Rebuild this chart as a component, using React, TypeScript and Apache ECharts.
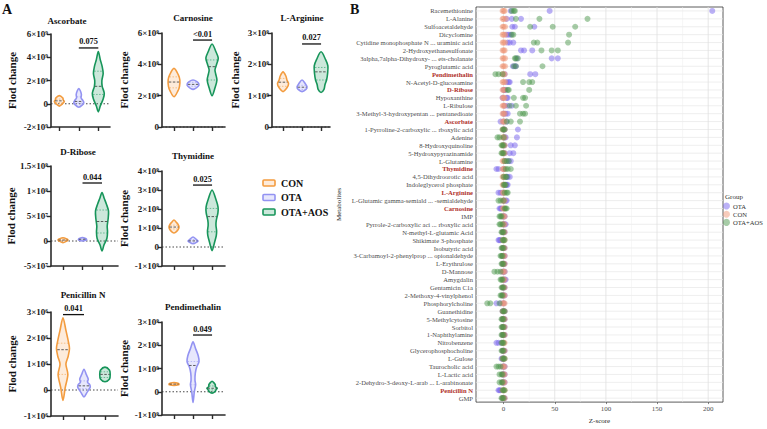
import React, { useEffect, useRef } from "react";
import * as echarts from "echarts";

const FONT = "Liberation Serif, Times New Roman, serif";

// ---------- Panel A: violin profiles [value, relative half-width] (CON, OTA, OTA+AOS) ----------
const groupsA = ["CON", "OTA", "OTA+AOS"];

const ascorbateViolins = [
  [[-2e8, 0], [0, 0.5], [2e8, 0.77], [3.5e8, 0.6], [5e8, 0.55], [7e8, 0]],
  [[-3e8, 0], [-1e8, 0.55], [1e8, 0.77], [3e8, 0.6], [5e8, 0.35], [8e8, 0.4], [1.1e9, 0.25], [1.3e9, 0]],
  [[-7e8, 0], [-2e8, 0.3], [4e8, 0.75], [9e8, 0.92], [1.5e9, 0.6], [2e9, 0.55], [2.6e9, 0.75], [3.2e9, 0.6], [3.8e9, 0.3], [4.5e9, 0]],
];
const ascorbateQuartiles = [[1e8, 2.5e8, 4e8], [0.5e8, 2e8, 6e8], [8e8, 1.5e9, 2.8e9]];
const ascorbateSig = [2, 3, 4.8e9, "0.075"];

const carnosineViolins = [
  [[1.93e8, 0], [2.3e8, 0.6], [2.6e8, 0.85], [3.0e8, 0.9], [3.3e8, 0.7], [3.74e8, 0]],
  [[2.4e8, 0], [2.6e8, 0.8], [2.75e8, 0.9], [2.9e8, 0.6], [3e8, 0]],
  [[2e8, 0], [2.5e8, 0.45], [3e8, 0.75], [3.4e8, 0.55], [3.65e8, 0.45], [4e8, 0.7], [4.4e8, 0.95], [4.8e8, 0.6], [5.3e8, 0]],
];
const carnosineQuartiles = [[2.5e8, 2.87e8, 3.2e8], [2.6e8, 2.72e8, 2.85e8], [3e8, 3.85e8, 4.28e8]];
const carnosineSig = [2, 3, 5.55e8, "<0.01"];

const arginineViolins = [
  [[1.13e8, 0], [1.25e8, 0.6], [1.38e8, 0.85], [1.5e8, 0.6], [1.62e8, 0.45], [1.76e8, 0]],
  [[1.13e8, 0], [1.2e8, 0.6], [1.28e8, 0.77], [1.38e8, 0.5], [1.5e8, 0]],
  [[1.1e8, 0], [1.2e8, 0.45], [1.35e8, 0.6], [1.5e8, 0.85], [1.7e8, 1.0], [1.95e8, 1.05], [2.15e8, 0.7], [2.4e8, 0]],
];
const arginineQuartiles = [[1.3e8, 1.43e8, 1.55e8], [1.2e8, 1.27e8, 1.33e8], [1.5e8, 1.76e8, 1.9e8]];
const arginineSig = [2, 3, 2.65e8, "0.027"];

const riboseViolins = [
  [[-3.4e6, 0], [0, 0.6], [2e6, 0.77], [4e6, 0.6], [6.6e6, 0]],
  [[0, 0], [2e6, 0.6], [3.5e6, 0.62], [5e6, 0.5], [7e6, 0]],
  [[-2e7, 0], [-8e6, 0.3], [5e6, 0.75], [1.8e7, 0.85], [3e7, 0.8], [4.5e7, 0.95], [6e7, 1.0], [7.3e7, 0.7], [8.5e7, 0.35], [9.7e7, 0]],
];
const riboseQuartiles = [[0.5e6, 2e6, 3.5e6], [2e6, 3.5e6, 5e6], [1.6e7, 3.9e7, 6.2e7]];
const riboseSig = [2, 3, 1.16e8, "0.044"];

const thymidineViolins = [
  [[7.4e7, 0], [9e7, 0.6], [1.05e8, 0.77], [1.2e8, 0.6], [1.3e8, 0.35], [1.42e8, 0]],
  [[1.7e7, 0], [2.6e7, 0.6], [3.2e7, 0.77], [4e7, 0.5], [5.3e7, 0]],
  [[-2e7, 0], [2e7, 0.35], [6e7, 0.65], [8.5e7, 0.7], [1.15e8, 0.6], [1.4e8, 0.65], [1.8e8, 0.9], [2.1e8, 0.92], [2.5e8, 0.6], [3e8, 0]],
];
const thymidineQuartiles = [[9.5e7, 1.05e8, 1.15e8], [2.5e7, 3.2e7, 3.9e7], [8e7, 1.6e8, 2.03e8]];
const thymidineSig = [2, 3, 3.26e8, "0.025"];

const penicillinViolins = [
  [[-4e5, 0], [1e5, 0.35], [6e5, 0.75], [1e6, 0.45], [1.3e6, 0.8], [1.6e6, 1.0], [1.9e6, 0.8], [2.3e6, 0.45], [2.78e6, 0]],
  [[-2.7e5, 0], [-1e5, 0.45], [1e5, 0.95], [2e5, 0.9], [3e5, 0.55], [4.2e5, 0.65], [6e5, 0.35], [8e5, 0]],
  [[3.2e5, 0], [4.2e5, 0.7], [6e5, 0.8], [7.6e5, 0.7], [8.8e5, 0]],
];
const penicillinQuartiles = [[6e5, 1.55e6, 1.8e6], [5e4, 1.6e5, 3.5e5], [4.8e5, 6e5, 7e5]];
const penicillinSig = [1, 2, 2.9e6, "0.041"];

const pendimethalinViolins = [
  [[2.7e7, 0], [3e7, 0.7], [3.3e7, 0.77], [3.7e7, 0.6], [4e7, 0]],
  [[-4.6e7, 0], [0, 0.2], [3e7, 0.4], [5e7, 0.3], [8e7, 0.35], [1.05e8, 0.55], [1.3e8, 0.92], [1.55e8, 0.8], [1.85e8, 0.4], [2.15e8, 0]],
  [[-5.7e6, 0], [2e6, 0.5], [8e6, 0.6], [1.5e7, 0.8], [2.2e7, 0.5], [3e7, 0.5], [3.8e7, 0.3], [4.5e7, 0]],
];
const pendimethalinQuartiles = [[3e7, 3.3e7, 3.6e7], [3e7, 1.13e8, 1.3e8], [8e6, 1.5e7, 2.5e7]];
const pendimethalinSig = [2, 3, 2.44e8, "0.049"];

// ---------- Panel B: metabolites and z-scores ----------
const metabolites = [
  "Racemethionine", "L-Alanine", "Sulfoacetaldehyde", "Dicyclomine",
  "Cytidine monophosphate N ... uraminic acid", "2-Hydroxyethanesulfonate",
  "3alpha,7alpha-Dihydroxy- ... ets-cholanate", "Pyroglutamic acid", "Pendimethalin",
  "N-Acetyl-D-glucosamine", "D-Ribose", "Hypoxanthine", "L-Ribulose",
  "3-Methyl-3-hydroxypentan ... pentanedioate", "Ascorbate",
  "1-Pyrroline-2-carboxylic ... rboxylic acid", "Adenine", "8-Hydroxyquinoline",
  "5-Hydroxypyrazinamide", "L-Glutamine", "Thymidine", "4,5-Dihydroorotic acid",
  "Indoleglycerol phosphate", "L-Arginine", "L-Glutamic gamma-semiald ... -semialdehyde",
  "Carnosine", "IMP", "Pyrrole-2-carboxylic aci ... rboxylic acid",
  "N-methyl-L-glutamic Acid", "Shikimate 3-phosphate", "Isobutyric acid",
  "3-Carbamoyl-2-phenylprop ... opionaldehyde", "L-Erythrulose", "D-Mannose",
  "Amygdalin", "Gentamicin C1a", "2-Methoxy-4-vinylphenol", "Phosphorylcholine",
  "Guanethidine", "5-Methylcytosine", "Sorbitol", "1-Naphthylamine", "Nitrobenzene",
  "Glycerophosphocholine", "L-Gulose", "Taurocholic acid", "L-Lactic acid",
  "2-Dehydro-3-deoxy-L-arab ... L-arabinonate", "Penicillin N", "GMP",
];
const highlighted = ["Pendimethalin", "D-Ribose", "Ascorbate", "Thymidine", "L-Arginine", "Carnosine", "Penicillin N"];

const otaZ = [
  [7, 45, 204], [3, 8, 17], [8.5, 11, 30], [3, 5, 7], [4, 6, 9.5], [17, 20, 28], [13, 47, 53], [9, 11, 12],
  [1, 26, 31], [3, 5, 6], [0, 1, 2], [-1, 3, 4], [1, 4, 8], [0, 2, 4], [-3, 0, 3], [0, 1, 14],
  [1, 2, 13], [1, 7, 11], [1, 6, 9.5], [2, 5, 7], [-7, -5, 0], [3, 4, 6], [2, 3, 4], [-5, -3, -1],
  [0, 2, 3], [-4, -3, -2], [-1, 0, 1], [0, 1, 2], [-1, 0, 1], [-5, -4, -3], [-1, 0, 1], [-1, 0, 1],
  [-1, 0, 1], [-1, 0, 1], [0, 1, 2], [-1, 0, 1], [-1, 0, 1], [-7, -3, 0], [-1, 0, 1], [-1, 0, 1],
  [-1, 0, 1], [-1, 0, 1], [-7, -5, -2], [-1, 0, 1], [-2, -1, 0], [-1, 0, 1], [-1, 0, 1], [-1, 0, 1],
  [-5, -4, -3], [-1, 0, 1],
];
const conZ = [
  [-1, 0, 1], [-1, 0, 2], [-1, 0, 1.5], [-1, 0, 1.5], [-1, 0, 1.5], [-1, 0, 1], [-1, 0, 1.5], [-1, 0, 1.5],
  [-1, 0, 1], [-1, 0, 1.5], [-1, 0, 1], [-1, 0, 1], [-1, 0, 1], [-1, 0, 1], [-1, 0, 1], [-1, 0, 1],
  [-1, 0, 1], [-1, 0, 1], [-1, 0, 1], [-1, 0, 1], [-1, 0, 1], [-1, 0, 1], [-1, 0, 1], [-1, 0, 1],
  [-1, 0, 1], [-1, 0, 1], [-1, 0, 1], [-1, 0, 1], [-1, 0, 1], [-1, 0, 1], [-1, 0, 1], [-1, 0, 1],
  [-1, 0, 1], [-1, 0, 1], [-1, 0, 1], [-1, 0, 1], [-1, 0, 1], [-1, 0, 1], [-1, 0, 1], [-1, 0, 1],
  [-1, 0, 1], [-1, 0, 1], [-1, 0, 1], [-1, 0, 1], [-1, 0, 1], [-1, 0, 1], [-1, 0, 1], [-1, 0, 1],
  [-1, 0, 1], [-1, 0, 1],
];
const aosZ = [
  [8, 10, 11], [12, 35, 82], [26, 48, 70], [8, 9.5, 64], [29.5, 33, 63], [37, 47, 53], [11, 12, 14], [10, 12, 38],
  [-8, -5, -1], [19, 25, 28], [4, 5, 25], [10, 19, 21], [6, 12, 22], [16, 19, 21], [3, 7, 16], [-1, 0, 1],
  [-6, -4, 0], [-2, -1, 0], [-2, -1, 0], [1, 3, 5], [2, 4, 7], [0, 2, 3], [0, 1, 2], [1, 3, 4],
  [-5, -3, 0], [1, 2, 3], [-4, -3, -2], [-4, -3, -1], [-2, -1, 0], [-1, 0, 1], [-2, -1, 0], [-3, -2, -1],
  [-2, -1, 0], [-9, -6, -3], [-3, -2, -1], [-2, -1, 0], [-3, -2, -1], [-16, -13, -4], [-1, 0, 1], [-2, -1, 0],
  [-2, -1, 0], [-2, -1, 0], [-2, -1, 0], [-2, -1, 0], [-1, 0, 1], [-7, -5, -3], [-4, -2, -1], [-4, -2, -1],
  [-1, 0, 1], [-2, -1, 0],
];
const zGridValues = [-25, 0, 25, 50, 75, 100, 125, 150, 175, 200];
const zTickValues = [0, 50, 100, 150, 200];

// ---------- styling / layout ----------
const violinColors = [
  { stroke: "#F39C3F", fill: "rgba(246,166,90,0.22)" },
  { stroke: "#9393F2", fill: "rgba(147,147,242,0.22)" },
  { stroke: "#17955A", fill: "rgba(23,149,90,0.22)" },
];
const dotColors = {
  OTA: "rgba(118,98,236,0.62)",
  CON: "rgba(238,150,118,0.62)",
  "OTA+AOS": "rgba(72,148,72,0.6)",
};

const panels = [
  { title: "Ascorbate", tx: 67, ty: 21, left: 51, top: 34, width: 59, height: 93, xMin: 0.574, xMax: 3.6, yMin: -2e9, yMax: 6e9, yStep: 2e9, nameGap: 34, hw: 0.333, violins: ascorbateViolins, quarts: ascorbateQuartiles, sig: ascorbateSig },
  { title: "Carnosine", tx: 193, ty: 18, left: 162, top: 33, width: 63, height: 94, xMin: 0.37, xMax: 3.68, yMin: 0, yMax: 6e8, yStep: 2e8, nameGap: 33, hw: 0.342, violins: carnosineViolins, quarts: carnosineQuartiles, sig: carnosineSig },
  { title: "L-Arginine", tx: 302, ty: 18, left: 272, top: 33, width: 58, height: 94, xMin: 0.42, xMax: 3.47, yMin: 0, yMax: 3e8, yStep: 1e8, nameGap: 32, hw: 0.342, violins: arginineViolins, quarts: arginineQuartiles, sig: arginineSig },
  { title: "D-Ribose", tx: 78, ty: 152, left: 51, top: 166, width: 67, height: 100, xMin: 0.385, xMax: 3.82, yMin: -5e7, yMax: 1.5e8, yStep: 5e7, nameGap: 34, hw: 0.333, violins: riboseViolins, quarts: riboseQuartiles, sig: riboseSig },
  { title: "Thymidine", tx: 193, ty: 156, left: 162, top: 171, width: 63, height: 95, xMin: 0.37, xMax: 3.68, yMin: -1e8, yMax: 4e8, yStep: 1e8, nameGap: 33, hw: 0.342, violins: thymidineViolins, quarts: thymidineQuartiles, sig: thymidineSig },
  { title: "Penicillin N", tx: 83, ty: 295, left: 51, top: 312, width: 67, height: 104, xMin: 0.43, xMax: 3.62, yMin: -1e6, yMax: 3e6, yStep: 1e6, nameGap: 34, hw: 0.31, violins: penicillinViolins, quarts: penicillinQuartiles, sig: penicillinSig },
  { title: "Pendimethalin", tx: 193, ty: 307, left: 162, top: 322, width: 63, height: 93, xMin: 0.37, xMax: 3.68, yMin: -1e8, yMax: 3e8, yStep: 1e8, nameGap: 33, hw: 0.342, violins: pendimethalinViolins, quarts: pendimethalinQuartiles, sig: pendimethalinSig },
];

const SUP: Record<string, string> = { "0": "⁰", "1": "¹", "2": "²", "3": "³", "4": "⁴", "5": "⁵", "6": "⁶", "7": "⁷", "8": "⁸", "9": "⁹", "-": "⁻" };
function sci(v: number) {
  if (Math.abs(v) < 1e-6) return "0";
  const e = Math.floor(Math.log10(Math.abs(v)) + 1e-9);
  const m = +(v / Math.pow(10, e)).toFixed(2);
  return `${m}×10${String(e).split("").map((c) => SUP[c]).join("")}`;
}

function interpW(profile: number[][], val: number) {
  for (let i = 0; i < profile.length - 1; i++) {
    const [v0, w0] = profile[i];
    const [v1, w1] = profile[i + 1];
    if (val >= v0 && val <= v1) return w0 + ((w1 - w0) * (val - v0)) / (v1 - v0);
  }
  return 0;
}

const axisColor = "#2b2b2b";

function buildOption() {
  const grid: any[] = [];
  const xAxis: any[] = [];
  const yAxis: any[] = [];
  const series: any[] = [];
  const graphics: any[] = [];

  panels.forEach((p, i) => {
    grid.push({ left: p.left, top: p.top, width: p.width, height: p.height });
    xAxis.push({
      gridIndex: i, type: "value", min: p.xMin, max: p.xMax,
      axisLine: { show: true, onZero: false, lineStyle: { color: axisColor, width: 1.6 } },
      axisTick: { show: true, customValues: [1, 2, 3], length: 4, lineStyle: { color: axisColor, width: 1.4 } },
      axisLabel: { show: false }, splitLine: { show: false },
    });
    yAxis.push({
      gridIndex: i, type: "value", min: p.yMin, max: p.yMax, interval: p.yStep,
      axisLine: { show: true, lineStyle: { color: axisColor, width: 1.6 } },
      axisTick: { show: true, length: 4, lineStyle: { color: axisColor, width: 1.4 } },
      axisLabel: { formatter: (v: number) => sci(v), fontSize: 9, fontWeight: "bold", fontFamily: FONT, color: "#1a1a1a", margin: 3 },
      splitLine: { show: false },
      name: "Flod change", nameLocation: "middle", nameGap: p.nameGap, nameRotate: 90,
      nameTextStyle: { fontSize: 11, fontWeight: "bold", fontFamily: FONT, color: "#111" },
    });
    series.push({
      type: "custom", name: `zero-${i}`, xAxisIndex: i, yAxisIndex: i, z: 1, silent: true,
      data: [[p.xMin, 0]],
      renderItem: (params: any, api: any) => {
        const a = api.coord([p.xMin, 0]);
        const b = api.coord([p.xMax, 0]);
        return { type: "line", shape: { x1: a[0], y1: a[1], x2: b[0], y2: b[1] }, style: { stroke: "#333", lineWidth: 0.9, lineDash: [1.5, 2] } };
      },
    });
    series.push({
      type: "custom", name: `violin-${i}`, xAxisIndex: i, yAxisIndex: i, z: 2, silent: true,
      data: [[1, 0], [2, 0], [3, 0]],
      renderItem: (params: any, api: any) => {
        const g = params.dataIndex;
        const prof = p.violins[g] as number[][];
        const cx = g + 1;
        const hw = p.hw;
        const leftPts = prof.map(([v, w]) => api.coord([cx - w * hw, v]));
        const rightPts = prof.slice(1, -1).reverse().map(([v, w]) => api.coord([cx + w * hw, v]));
        const c = violinColors[g];
        const children: any[] = [
          { type: "polygon", shape: { points: leftPts.concat(rightPts), smooth: 0.3 }, style: { fill: c.fill, stroke: c.stroke, lineWidth: 1.6, lineJoin: "round" } },
        ];
        p.quarts[g].forEach((q: number, k: number) => {
          const w = interpW(prof, q) * hw * 0.9;
          const a = api.coord([cx - w, q]);
          const b = api.coord([cx + w, q]);
          children.push({
            type: "line", shape: { x1: a[0], y1: a[1], x2: b[0], y2: b[1] },
            style: { stroke: k === 1 ? "#3a3a3a" : c.stroke, lineWidth: k === 1 ? 0.9 : 0.7, lineDash: k === 1 ? [2.5, 1.5] : [1.5, 1.5], opacity: k === 1 ? 0.9 : 0.8 },
          });
        });
        return { type: "group", children };
      },
    });
    const sig = p.sig as any[];
    series.push({
      type: "custom", name: `sig-${i}`, xAxisIndex: i, yAxisIndex: i, z: 3, silent: true,
      data: [[sig[0], sig[2]]],
      renderItem: (params: any, api: any) => {
        const a = api.coord([sig[0], sig[2]]);
        const b = api.coord([sig[1], sig[2]]);
        return {
          type: "group",
          children: [
            { type: "line", shape: { x1: a[0], y1: a[1], x2: b[0], y2: b[1] }, style: { stroke: "#111", lineWidth: 1.3 } },
            { type: "text", style: { text: sig[3], x: (a[0] + b[0]) / 2, y: a[1] - 2, align: "center", verticalAlign: "bottom", fontSize: 8.3, fontWeight: "bold", fontFamily: FONT, fill: "#111" } },
          ],
        };
      },
    });
    graphics.push({ type: "text", x: p.tx, y: p.ty, style: { text: p.title, align: "center", verticalAlign: "middle", fontSize: 9, fontWeight: "bold", fontFamily: FONT, fill: "#111" } });
  });

  groupsA.forEach((g, k) => {
    const y = 183 + k * 14.5;
    graphics.push({ type: "rect", shape: { x: 263, y: y - 3, width: 12, height: 6, r: 1 }, style: { fill: violinColors[k].fill, stroke: violinColors[k].stroke, lineWidth: 1.6 } });
    graphics.push({ type: "text", x: 281, y, style: { text: g, align: "left", verticalAlign: "middle", fontSize: 10, fontWeight: "bold", fontFamily: FONT, fill: "#111" } });
  });
  graphics.push({ type: "text", x: 2, y: 2, style: { text: "A", fontSize: 14, fontWeight: "bold", fontFamily: FONT, fill: "#111" } });
  graphics.push({ type: "text", x: 350, y: 2, style: { text: "B", fontSize: 14, fontWeight: "bold", fontFamily: FONT, fill: "#111" } });
  graphics.push({ type: "text", x: 725, y: 197, style: { text: "Group", align: "left", verticalAlign: "middle", fontSize: 7, fontFamily: FONT, fill: "#333" } });

  const bi = panels.length;
  grid.push({ left: 476, top: 7, width: 247, height: 405, show: true, borderColor: "#333", borderWidth: 0.8 });
  xAxis.push({
    gridIndex: bi, type: "value", min: -27, max: 214.5,
    axisLine: { show: false },
    axisTick: { show: true, customValues: zTickValues, length: 2, lineStyle: { color: "#333", width: 0.6 } },
    axisLabel: { customValues: zTickValues, fontSize: 7, fontFamily: FONT, color: "#4d4d4d", margin: 3 },
    splitLine: { show: false },
    name: "Z-score", nameLocation: "middle", nameGap: 13,
    nameTextStyle: { fontSize: 7, fontFamily: FONT, color: "#222" },
  });
  yAxis.push({
    gridIndex: bi, type: "category", data: metabolites, inverse: true,
    axisLine: { show: false },
    axisTick: { show: true, alignWithLabel: true, interval: 0, length: 2, lineStyle: { color: "#333", width: 0.6 } },
    axisLabel: {
      interval: 0, fontSize: 6.6, fontFamily: FONT, color: "#4d4d4d", margin: 3,
      formatter: (v: string) => (highlighted.includes(v) ? `{r|${v}}` : v),
      rich: { r: { fontSize: 6.6, fontFamily: FONT, color: "#B0312B", fontWeight: "bold" } },
    },
    splitLine: { show: false },
    name: "Metabolites", nameLocation: "middle", nameGap: 134, nameRotate: 90,
    nameTextStyle: { fontSize: 7, fontFamily: FONT, color: "#222" },
  });
  series.push({
    type: "custom", name: "hgrid", xAxisIndex: bi, yAxisIndex: bi, z: 1, silent: true,
    data: metabolites.map((_, i) => [0, i]),
    renderItem: (params: any, api: any) => {
      const cs = params.coordSys;
      const y = api.coord([0, api.value(1)])[1];
      return { type: "line", shape: { x1: cs.x, y1: y, x2: cs.x + cs.width, y2: y }, style: { stroke: "#e6e6e6", lineWidth: 0.7 } };
    },
  });
  series.push({
    type: "custom", name: "vgrid", xAxisIndex: bi, yAxisIndex: bi, z: 1, silent: true,
    data: zGridValues.map((v) => [v, 0]),
    renderItem: (params: any, api: any) => {
      const cs = params.coordSys;
      const v = api.value(0);
      const x = api.coord([v, 0])[0];
      const major = v % 50 === 0;
      return { type: "line", shape: { x1: x, y1: cs.y, x2: x, y2: cs.y + cs.height }, style: { stroke: major ? "#e0e0e0" : "#efefef", lineWidth: major ? 0.8 : 0.5 } };
    },
  });
  const groupsB: [string, number[][]][] = [["OTA", otaZ], ["CON", conZ], ["OTA+AOS", aosZ]];
  groupsB.forEach(([name, arr]) => {
    series.push({
      type: "scatter", name, xAxisIndex: bi, yAxisIndex: bi, z: 3, symbolSize: 6,
      itemStyle: { color: (dotColors as any)[name] },
      data: arr.flatMap((vals, i) => vals.map((v) => [v, i])),
    });
  });

  return {
    animation: false,
    backgroundColor: "#fff",
    textStyle: { fontFamily: FONT },
    grid, xAxis, yAxis, series,
    legend: {
      data: ["OTA", "CON", "OTA+AOS"], orient: "vertical", left: 723, top: 202.5,
      itemWidth: 7, itemHeight: 7, itemGap: 1.2, icon: "circle", padding: 0,
      textStyle: { fontSize: 6.6, fontFamily: FONT, color: "#333", padding: [0, 0, 0, -2] },
    },
    graphic: { elements: graphics },
  };
}

export default function App() {
  const ref = useRef<HTMLDivElement>(null);
  useEffect(() => {
    const chart = echarts.init(ref.current as HTMLDivElement, null, { renderer: "svg" });
    chart.setOption(buildOption() as any);
    return () => chart.dispose();
  }, []);
  return <div ref={ref} style={{ position: "fixed", left: 0, top: 0, width: 767, height: 429, background: "#fff" }} />;
}
